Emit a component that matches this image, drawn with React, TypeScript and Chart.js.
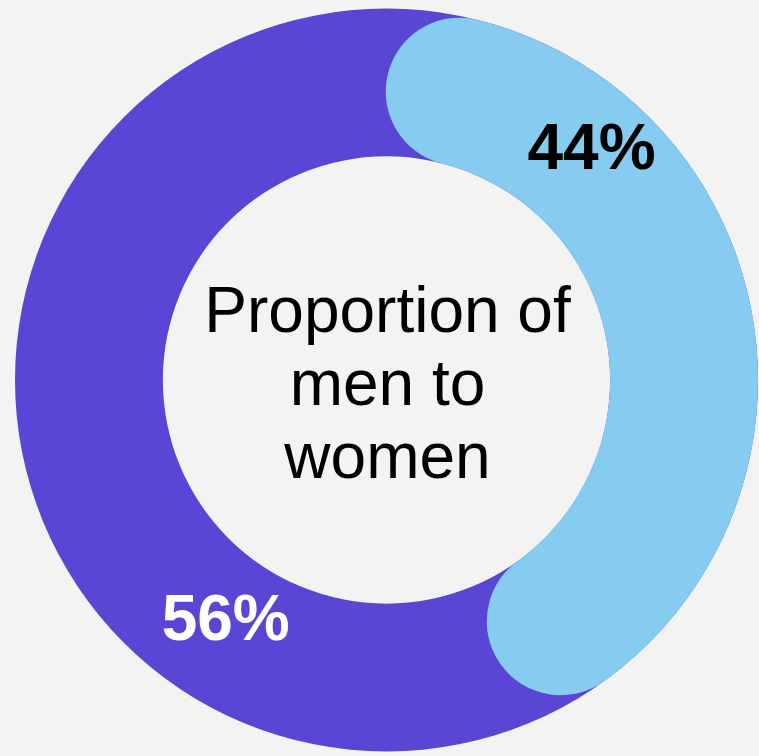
import React, { useEffect, useRef } from "react";
import { Chart, registerables } from "chart.js";

Chart.register(...registerables);

const categories = ["Women", "Men"];
const shares = [44, 56];
const shareLabels = ["44%", "56%"];
const centerLines = ["Proportion of", "men to", "women"];

const PURPLE = "#5a46d4";
const BLUE = "#85ccf0";
const BG = "#f3f3f3";
const FONT = "'Liberation Sans', Arial, sans-serif";

const layoutPadding = { left: 15, right: 1, top: 8, bottom: 4 };

const labelPlugin = {
  id: "shareLabels",
  afterDatasetsDraw(chart: any) {
    const meta = chart.getDatasetMeta(0);
    const ctx = chart.ctx;
    const fracs = [0.262, 0.275];
    const radial = [0.58, 0.44];
    const colors = ["#000000", "#ffffff"];
    ctx.save();
    ctx.textAlign = "center";
    ctx.textBaseline = "middle";
    ctx.font = `bold 64px ${FONT}`;
    meta.data.forEach((arc: any, i: number) => {
      const a = arc.startAngle + (arc.endAngle - arc.startAngle) * fracs[i];
      const r = arc.innerRadius + (arc.outerRadius - arc.innerRadius) * radial[i];
      ctx.fillStyle = colors[i];
      ctx.fillText(shareLabels[i], arc.x + Math.cos(a) * r, arc.y + Math.sin(a) * r + 3);
    });
    const arc0 = meta.data[0];
    ctx.fillStyle = "#000000";
    ctx.font = `64px ${FONT}`;
    ctx.textBaseline = "alphabetic";
    const offs = [-48, 25, 98];
    centerLines.forEach((t, i) => ctx.fillText(t, arc0.x + 1, arc0.y + offs[i]));
    ctx.restore();
  },
};

export default function App() {
  const baseRef = useRef<HTMLCanvasElement>(null);
  const topRef = useRef<HTMLCanvasElement>(null);

  useEffect(() => {
    const total = shares.reduce((s, v) => s + v, 0);
    const base = new Chart(baseRef.current!, {
      type: "doughnut",
      data: {
        labels: ["All"],
        datasets: [{ data: [total], backgroundColor: [PURPLE], borderWidth: 0 }],
      },
      options: {
        animation: false,
        responsive: true,
        maintainAspectRatio: false,
        cutout: "60.2%",
        layout: { padding: layoutPadding },
        plugins: { legend: { display: false }, tooltip: { enabled: false } },
        events: [],
      },
    });
    const top = new Chart(topRef.current!, {
      type: "doughnut",
      data: {
        labels: categories,
        datasets: [
          {
            data: shares,
            backgroundColor: [BLUE, "rgba(0,0,0,0)"],
            borderWidth: 0,
            borderRadius: [200, 0],
          },
        ],
      },
      options: {
        animation: false,
        responsive: true,
        maintainAspectRatio: false,
        cutout: "60.2%",
        layout: { padding: layoutPadding },
        plugins: { legend: { display: false }, tooltip: { enabled: false } },
        events: [],
      },
      plugins: [labelPlugin],
    });
    return () => {
      base.destroy();
      top.destroy();
    };
  }, []);

  return (
    <div style={{ position: "fixed", left: 0, top: 0, width: 759, height: 756, background: BG }}>
      <div style={{ position: "absolute", left: 0, top: 0, width: 759, height: 756 }}>
        <canvas ref={baseRef} />
      </div>
      <div style={{ position: "absolute", left: 0, top: 0, width: 759, height: 756 }}>
        <canvas ref={topRef} />
      </div>
    </div>
  );
}
